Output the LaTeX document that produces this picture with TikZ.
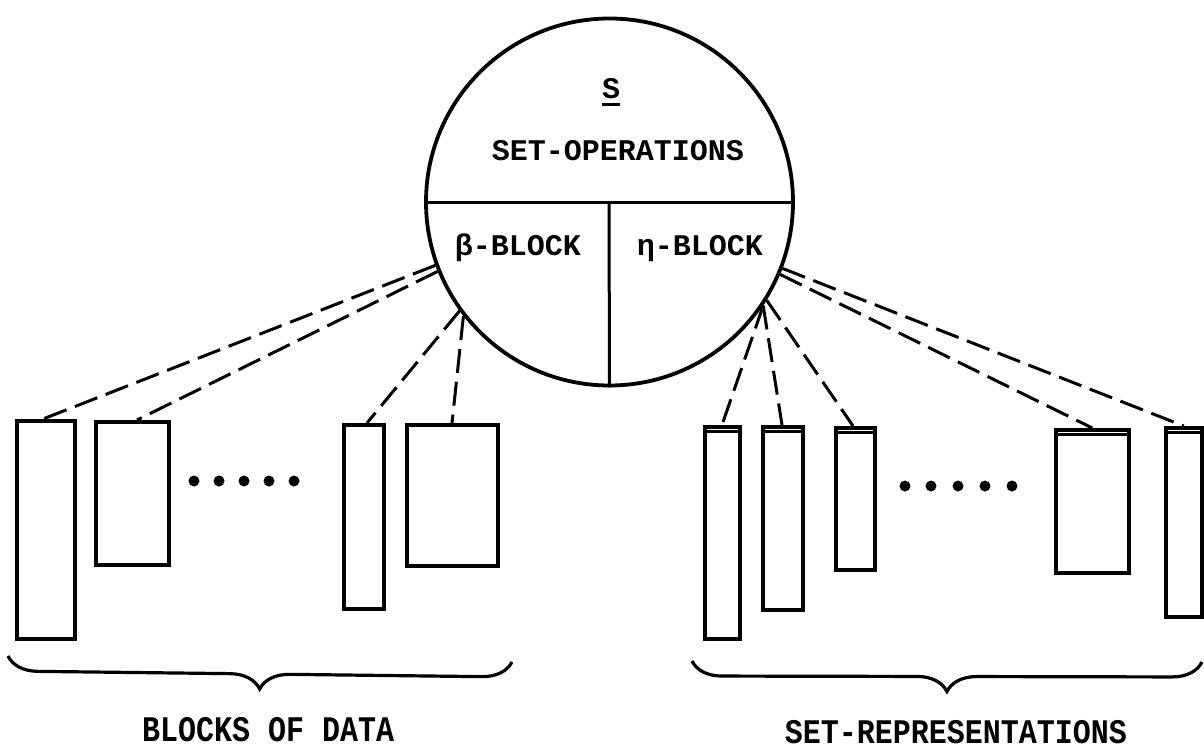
\documentclass[tikz,border=0pt]{standalone}
\usepackage{fontspec}
\usepackage{graphicx}
\setmonofont{Liberation Mono}
\usetikzlibrary{decorations.pathreplacing,calc}
\begin{document}
\begin{tikzpicture}[x=1pt,y=-1pt,
  box/.style={draw,line width=3.6pt,inner sep=0pt,anchor=north west},
  link/.style={line width=3pt,dash pattern=on 24pt off 9pt},
  txt/.style={font=\ttfamily\bfseries\fontsize{30}{30}\selectfont,inner sep=0pt,anchor=base},
  dotmark/.style={fill=black},
  bracestyle/.style={line width=3.2pt,decorate,decoration={brace,mirror,amplitude=30pt}}]
\useasboundingbox (0,0) rectangle (1204,752);
% circle
\node[circle,draw,line width=3.8pt,inner sep=0pt,minimum size=367pt] (so) at (609.5,202) {};
\draw[line width=3pt] (so.west) -- (so.east);
\draw[line width=3pt] (609,203) -- (so.south);
\node[txt] (s) at (611,98) {S};
\draw[line width=3pt] ([yshift=-6pt]s.base west) -- ([yshift=-6pt]s.base east);
\node[txt] (setop) at (618,160) {SET-OPERATIONS};
\node[txt] (beta) at (518,255) {β-BLOCK};
\node[txt] (eta) at (700,255) {η-BLOCK};
% left boxes
\node[box,minimum width=58pt,minimum height=218pt] (bl1) at (15,419) {};
\node[box,minimum width=73pt,minimum height=143pt] (bl2) at (94,420) {};
\node[box,minimum width=40pt,minimum height=184pt] (bl3) at (342,423) {};
\node[box,minimum width=91pt,minimum height=141pt] (bl4) at (405,423) {};
% right boxes
\node[box,minimum width=35pt,minimum height=212pt] (sr1) at (703,425) {};
\node[box,minimum width=40pt,minimum height=183pt] (sr2) at (761,425) {};
\node[box,minimum width=39pt,minimum height=142pt] (sr3) at (834,426) {};
\node[box,minimum width=73pt,minimum height=143pt] (sr4) at (1054,428) {};
\node[box,minimum width=36pt,minimum height=189pt] (sr5) at (1164,426) {};
\foreach \r in {sr1,sr2,sr3,sr4,sr5}
  \draw[line width=3pt] ([yshift=-6.5pt]\r.north west) -- ([yshift=-6.5pt]\r.north east);
% dots
\foreach \x in {194,219,244,269,294} \fill[dotmark] (\x,481) circle (5.5pt);
\foreach \x in {905,931,958,985,1012} \fill[dotmark] (\x,486) circle (5.5pt);
% dashed links
\draw[link] (so.200.4) -- ([xshift=28pt]bl1.north west);
\draw[link] (so.202.4) -- ([xshift=43pt]bl2.north west);
\draw[link] (so.216.7) -- ([xshift=25pt]bl3.north west);
\draw[link] (so.218.1) -- ([xshift=47pt]bl4.north west);
\draw[link] (so.326.5) -- ([xshift=19pt]sr1.north west);
\draw[link] (so.326.5) -- ([xshift=21pt]sr2.north west);
\draw[link] (so.328) -- ([xshift=19pt]sr3.north west);
\draw[link] (so.337.8) -- (sr4.north);
\draw[link] (so.339.7) -- (sr5.north);
% braces
\coordinate (b1l) at (8,656);
\coordinate (b1r) at (512,662);
\coordinate (b2l) at (692,661);
\coordinate (b2r) at (1202,662);
\draw[bracestyle] (b1l) -- (b1r);
\draw[bracestyle] (b2l) -- (b2r);
\node[txt] (lab1) at (269,741) {\scalebox{1}[1.2]{BLOCKS OF DATA}};
\node[txt] (lab2) at (956,743) {\scalebox{1}[1.15]{SET-REPRESENTATIONS}};
\end{tikzpicture}
\end{document}
